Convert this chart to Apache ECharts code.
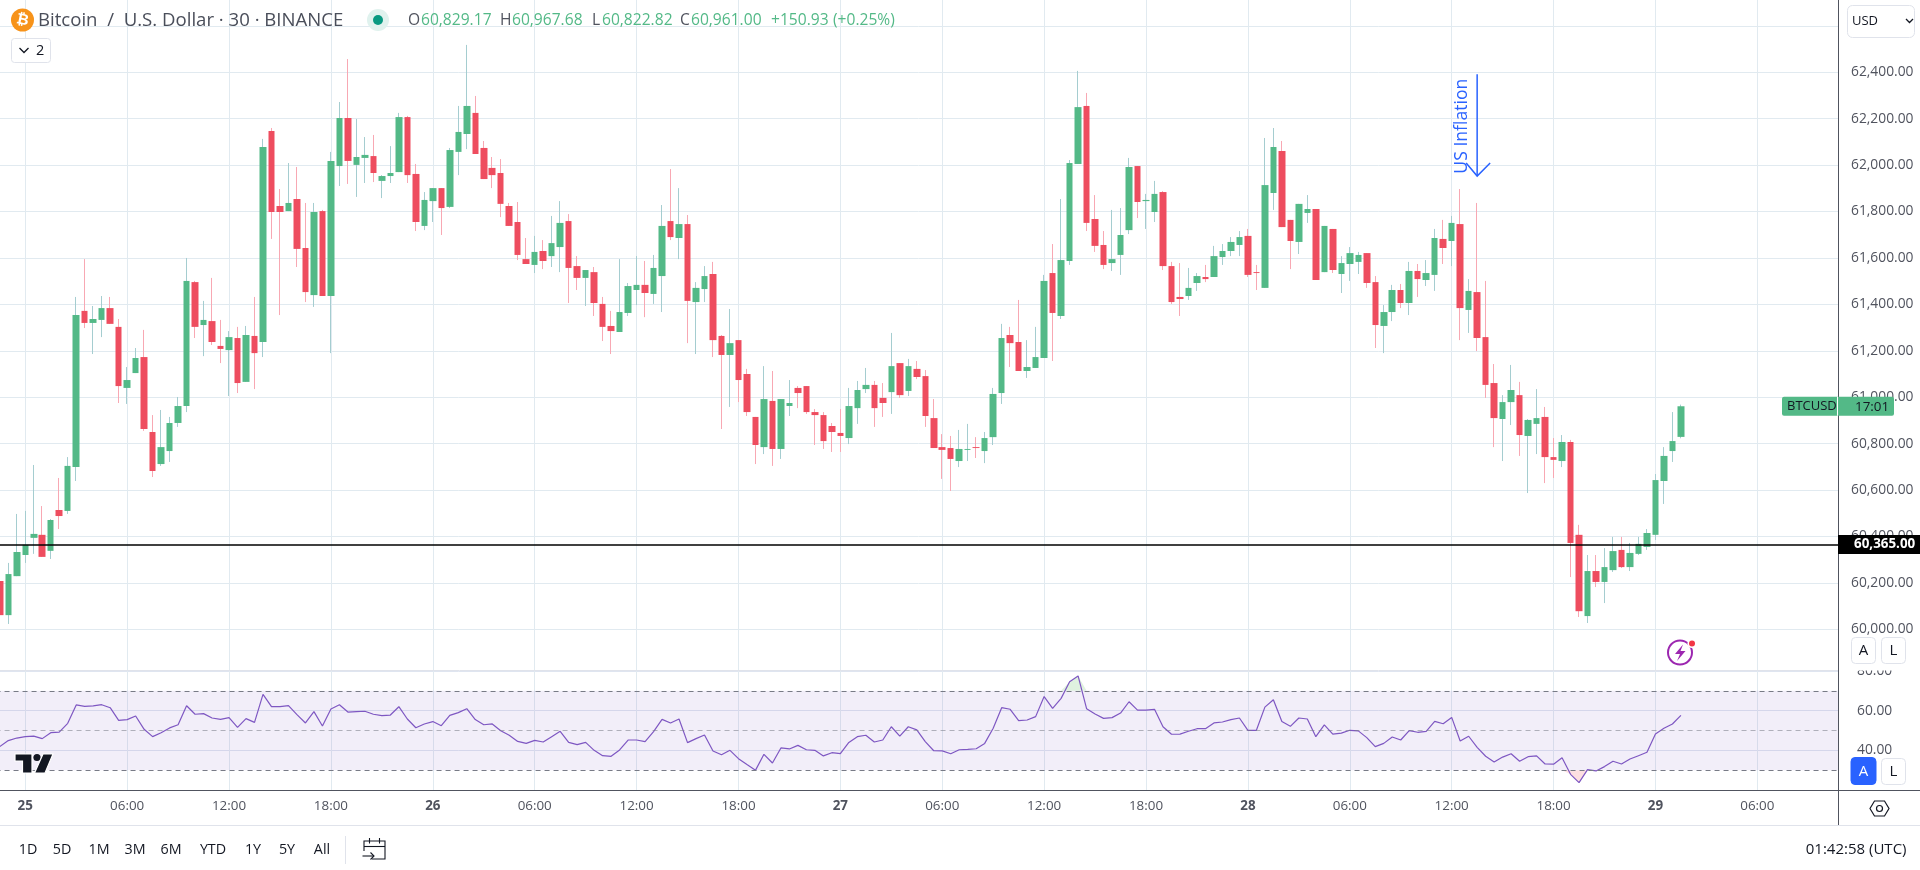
<!DOCTYPE html>
<html>
<head>
<meta charset="utf-8">
<title>Bitcoin / U.S. Dollar</title>
<script src="https://cdn.jsdelivr.net/npm/echarts@6/dist/echarts.min.js"></script>
<style>
  html, body { margin: 0; height: 100%; background: #fff; }
  #chart { width: 1920px; height: 870px; }
</style>
</head>
<body>
<div id="chart"></div>
<script>
// 30m candles
const opens = [
  60208, 60061, 60229, 60320, 60394, 60407, 60338, 60514, 60510, 60699,
  61372, 61320, 61333, 61384, 61303, 61040, 61104, 61173, 60850, 60712,
  60768, 60889, 60962, 61496, 61311, 61328, 61221, 61203, 61255, 61066,
  61264, 61238, 62147, 61824, 61802, 61854, 61643, 61440, 61802, 61436,
  61996, 62203, 62001, 62031, 62039, 61932, 61953, 61970, 62207, 61962,
  61738, 61845, 61901, 61820, 62057, 62134, 62225, 62074, 61988, 61966,
  61824, 61755, 61595, 61570, 61630, 61608, 61647, 61759, 61565, 61514,
  61539, 61402, 61307, 61281, 61363, 61462, 61484, 61445, 61522, 61759,
  61686, 61746, 61410, 61466, 61531, 61264, 61182, 61246, 61100, 60915,
  60785, 60984, 60777, 60962, 61040, 61048, 60936, 60923, 60876, 60846,
  60824, 60953, 61035, 61053, 60997, 61022, 61147, 61027, 61122, 61091,
  60910, 60785, 60781, 60725, 60773, 60785, 60768, 60828, 61018, 61268,
  61238, 61113, 61126, 61169, 61535, 61350, 61587, 62005, 62255, 61768,
  61656, 61578, 61613, 61720, 61996, 61845, 61798, 61884, 61565, 61432,
  61436, 61492, 61518, 61518, 61604, 61630, 61656, 61695, 61539, 61471,
  61880, 62061, 61764, 61669, 61794, 61811, 61539, 61725, 61531, 61574,
  61583, 61621, 61496, 61307, 61367, 61462, 61406, 61544, 61505, 61527,
  61682, 61673, 61746, 61376, 61453, 61259, 61061, 60906, 60979, 61009,
  60833, 60885, 60915, 60742, 60725, 60807, 60407, 60057, 60251, 60204,
  60255, 60342, 60268, 60325, 60355, 60407, 60639, 60768, 60829
];
const closes = [
  60061, 60238, 60333, 60364, 60411, 60312, 60471, 60488, 60704, 61354,
  61320, 61337, 61384, 61316, 61048, 61074, 61169, 60863, 60682, 60785,
  60889, 60962, 61501, 61303, 61333, 61238, 61208, 61259, 61061, 61268,
  61190, 62078, 61798, 61798, 61837, 61639, 61453, 61798, 61436, 62018,
  62203, 62018, 62035, 62044, 61966, 61953, 61966, 62207, 61957, 61755,
  61850, 61901, 61815, 62065, 62143, 62255, 62048, 61940, 61957, 61833,
  61738, 61613, 61574, 61626, 61587, 61664, 61751, 61557, 61514, 61548,
  61406, 61303, 61285, 61367, 61479, 61484, 61449, 61557, 61738, 61690,
  61746, 61415, 61471, 61522, 61246, 61182, 61233, 61074, 60936, 60794,
  60992, 60777, 60992, 60975, 61018, 60936, 60923, 60811, 60850, 60833,
  60962, 61031, 61053, 60953, 60975, 61134, 61009, 61134, 61087, 60919,
  60781, 60773, 60734, 60777, 60777, 60781, 60824, 61014, 61255, 61233,
  61113, 61130, 61173, 61501, 61363, 61591, 62009, 62250, 61751, 61652,
  61570, 61595, 61699, 61992, 61841, 61850, 61876, 61565, 61410, 61423,
  61471, 61522, 61509, 61608, 61630, 61669, 61690, 61527, 61535, 61914,
  62078, 61733, 61673, 61833, 61811, 61505, 61738, 61548, 61578, 61621,
  61613, 61492, 61311, 61367, 61462, 61406, 61544, 61509, 61535, 61686,
  61643, 61751, 61384, 61458, 61255, 61053, 60910, 60979, 61031, 60837,
  60902, 60910, 60742, 60730, 60807, 60372, 60078, 60251, 60204, 60268,
  60337, 60268, 60329, 60368, 60415, 60643, 60747, 60811, 60961
];
const highs = [
  60303, 60286, 60497, 60510, 60708, 60531, 60475, 60652, 60742, 61432,
  61595, 61393, 61436, 61432, 61337, 61130, 61212, 61290, 60923, 60945,
  60915, 61001, 61600, 61501, 61415, 61514, 61333, 61285, 61303, 61307,
  61432, 62113, 62160, 61897, 62009, 61992, 61837, 61837, 61807, 62057,
  62272, 62457, 62199, 62121, 62130, 61957, 62082, 62225, 62212, 62005,
  61884, 61901, 61901, 62074, 62255, 62518, 62298, 62104, 62035, 62026,
  61837, 61841, 61686, 61695, 61677, 61781, 61845, 61789, 61608, 61548,
  61561, 61432, 61372, 61595, 61492, 61608, 61587, 61613, 61828, 61983,
  61901, 61785, 61496, 61565, 61583, 61268, 61380, 61246, 61122, 60915,
  61134, 61113, 60992, 61074, 61048, 61048, 60949, 60936, 60889, 60949,
  61040, 61070, 61126, 61070, 61061, 61277, 61147, 61165, 61156, 61117,
  60992, 60841, 60833, 60859, 60885, 60828, 60850, 61040, 61316, 61303,
  61419, 61246, 61303, 61527, 61660, 61854, 62022, 62406, 62311, 61871,
  61716, 61807, 61815, 62031, 61996, 61876, 61932, 61888, 61583, 61578,
  61557, 61535, 61570, 61652, 61660, 61690, 61716, 61725, 61570, 62117,
  62160, 62104, 61764, 61833, 61871, 61811, 61738, 61725, 61608, 61647,
  61626, 61621, 61522, 61397, 61484, 61488, 61583, 61574, 61591, 61725,
  61764, 61781, 61897, 61509, 61837, 61501, 61143, 61009, 61139, 61066,
  60906, 61035, 60958, 60824, 60837, 60816, 60450, 60320, 60320, 60350,
  60398, 60398, 60372, 60398, 60432, 60669, 60785, 60936, 60968
];
const lows = [
  60053, 60023, 60229, 60286, 60325, 60312, 60303, 60432, 60497, 60639,
  61298, 61186, 61259, 61316, 60975, 60971, 61104, 60855, 60656, 60704,
  60721, 60872, 60936, 61255, 61177, 61225, 61147, 61005, 61018, 61066,
  61035, 61173, 61682, 61354, 61802, 61561, 61410, 61389, 61436, 61190,
  61910, 61919, 61863, 61923, 61927, 61858, 61923, 61970, 61923, 61716,
  61720, 61755, 61699, 61815, 61957, 62069, 62048, 61940, 61901, 61776,
  61738, 61591, 61574, 61535, 61552, 61561, 61539, 61406, 61462, 61393,
  61350, 61242, 61186, 61281, 61350, 61397, 61345, 61402, 61367, 61677,
  61595, 61233, 61186, 61410, 61173, 60863, 60958, 60979, 60919, 60712,
  60755, 60704, 60734, 60919, 60953, 60928, 60794, 60777, 60764, 60764,
  60798, 60885, 61018, 60872, 60915, 60928, 60997, 61005, 61078, 60872,
  60781, 60648, 60596, 60699, 60725, 60738, 60716, 60794, 60971, 61130,
  61113, 61083, 61126, 61169, 61156, 61337, 61570, 62005, 61716, 61626,
  61552, 61544, 61527, 61703, 61772, 61725, 61755, 61548, 61402, 61350,
  61419, 61458, 61496, 61518, 61570, 61608, 61608, 61518, 61462, 61471,
  61807, 61733, 61552, 61617, 61751, 61505, 61539, 61535, 61449, 61501,
  61531, 61471, 61212, 61190, 61328, 61384, 61354, 61432, 61479, 61458,
  61574, 61565, 61246, 61277, 61199, 60997, 60785, 60725, 60880, 60747,
  60587, 60755, 60630, 60652, 60699, 60225, 60053, 60027, 60182, 60113,
  60247, 60264, 60251, 60320, 60342, 60385, 60540, 60721, 60823
];
const rsi = [
  41.9, 44.9, 46.2, 46.9, 47.2, 45.9, 48.9, 49.2, 53.6, 62.9,
  62.2, 62.4, 63.0, 61.5, 55.1, 55.5, 57.3, 50.6, 46.9, 48.9,
  51.3, 52.9, 62.5, 58.2, 58.5, 56.3, 55.6, 56.5, 51.6, 56.0,
  54.1, 68.2, 62.0, 62.0, 62.5, 58.0, 53.8, 59.5, 52.3, 60.8,
  63.0, 59.3, 59.5, 59.7, 58.2, 57.5, 57.8, 62.0, 55.8, 51.4,
  53.3, 54.5, 52.4, 57.6, 59.0, 61.0, 55.5, 52.9, 53.3, 49.9,
  47.6, 44.5, 43.5, 45.0, 44.2, 46.9, 49.6, 44.0, 42.9, 44.0,
  40.0, 37.3, 37.0, 40.2, 45.2, 45.2, 44.4, 49.4, 55.6, 53.8,
  55.8, 43.9, 45.9, 47.7, 39.7, 37.8, 40.0, 35.8, 32.8, 29.9,
  38.0, 33.6, 41.2, 40.7, 42.5, 40.3, 40.0, 37.2, 38.8, 38.3,
  44.0, 46.9, 47.6, 44.2, 45.2, 51.9, 47.2, 51.9, 50.3, 44.4,
  39.8, 39.7, 38.3, 40.3, 40.5, 40.8, 43.5, 51.1, 61.5, 60.7,
  55.0, 55.3, 57.0, 67.1, 61.2, 66.2, 74.6, 77.5, 61.0, 58.3,
  56.1, 56.5, 58.8, 64.5, 60.3, 60.3, 60.7, 51.9, 48.1, 48.2,
  49.6, 50.9, 50.9, 53.8, 54.3, 55.5, 56.3, 50.1, 50.1, 61.8,
  65.5, 54.5, 52.1, 56.3, 55.8, 46.9, 52.8, 48.2, 48.7, 50.1,
  49.8, 46.4, 41.9, 43.5, 46.7, 45.2, 49.9, 49.1, 49.6, 54.6,
  53.4, 56.6, 44.7, 47.1, 41.5, 37.0, 34.1, 36.6, 38.3, 34.5,
  36.8, 37.2, 33.1, 33.0, 36.3, 27.9, 23.7, 30.3, 29.6, 31.8,
  34.5, 33.1, 35.6, 37.3, 39.0, 48.2, 51.1, 53.3, 57.6
];
// one label every 12 bars, first one on the 4th bar
const timeLabels = ['25', '06:00', '12:00', '18:00', '26', '06:00', '12:00', '18:00',
  '27', '06:00', '12:00', '18:00', '28', '06:00', '12:00', '18:00', '29', '06:00'];
const priceTicks = [60000, 60200, 60400, 60600, 60800, 61000, 61200, 61400,
  61600, 61800, 62000, 62200, 62400, 62600];
const rangeButtons = [['1D', 28], ['5D', 62], ['1M', 99], ['3M', 135], ['6M', 171],
  ['YTD', 213], ['1Y', 253], ['5Y', 287], ['All', 322]];
const lastPrice = 60961;
const supportLevel = 60365;
const rsiUpper = 70, rsiLower = 30;

const SLOTS = 217;
const UP = '#53b987', DOWN = '#ee4d5f', UP_WICK = '#a5cdd0', DOWN_WICK = '#f8a8b3';
const GRID_LINE = '#e1eaf0', AXIS_TEXT = '#50535e', INK = '#131722', BLUE = '#2962ff';
const FONT = "'Open Sans', sans-serif";

const categories = new Array(SLOTS).fill('');
timeLabels.forEach((label, k) => { categories[3 + 12 * k] = label; });
const isLabelled = (index) => categories[index] !== '';

const fullCandles = opens.map((o, i) => [o, closes[i], lows[i], highs[i]]);
const bodies = opens.map((o, i) => [o, closes[i], Math.min(o, closes[i]), Math.max(o, closes[i])]);

function xAxisOf(gridIndex, showLabels) {
  return {
    type: 'category',
    gridIndex: gridIndex,
    data: categories,
    axisLine: { show: false },
    axisTick: { show: false },
    splitLine: {
      show: true,
      alignWithLabel: true,
      interval: isLabelled,
      lineStyle: { color: GRID_LINE, width: 1 }
    },
    axisLabel: {
      show: showLabels,
      interval: isLabelled,
      margin: 10,
      fontFamily: FONT,
      fontSize: 13.4,
      color: AXIS_TEXT,
      formatter: (v) => (v.indexOf(':') > 0 ? v : '{day|' + v + '}'),
      rich: { day: { fontFamily: FONT, fontSize: 13.4, fontWeight: 'bold', color: AXIS_TEXT } }
    }
  };
}

// tinted bit of the RSI beyond a band edge
function rsiOverflow(values, edge, tint) {
  return {
    type: 'line', xAxisIndex: 1, yAxisIndex: 1, data: values,
    showSymbol: false, silent: true,
    lineStyle: { width: 0 },
    areaStyle: { origin: edge, color: tint, opacity: 1 }
  };
}

function txt(x, y, text, fill, size, extra) {
  return {
    type: 'text', z: 120,
    style: {
      x: x, y: y, text: text, fill: fill,
      font: (extra && extra.bold ? 'bold ' : '') + size + 'px ' + FONT,
      textAlign: (extra && extra.align) || 'left',
      textVerticalAlign: 'middle'
    }
  };
}
function box(x, y, w, h, fill, stroke, r) {
  return {
    type: 'rect', z: 110,
    shape: { x: x, y: y, width: w, height: h, r: r || 0 },
    style: { fill: fill, stroke: stroke || null, lineWidth: 1 }
  };
}
function stroked(points, color, width) {
  return { type: 'polyline', z: 120, shape: { points: points }, style: { fill: null, stroke: color, lineWidth: width || 1 } };
}
function filled(points, color, halo) {
  return {
    type: 'polygon', z: 120, shape: { points: points },
    style: { fill: color, stroke: halo || null, lineWidth: halo ? 1.2 : 0 }
  };
}

const chart = echarts.init(document.getElementById('chart'));
chart.setOption({
  animation: false,
  backgroundColor: '#fff',
  grid: [
    { left: -4.45, width: 1842.45, top: 0, height: 670, outerBoundsMode: 'none' },
    { left: -4.45, width: 1842.45, top: 671, height: 119, outerBoundsMode: 'none' }
  ],
  xAxis: [xAxisOf(0, false), xAxisOf(1, true)],
  yAxis: [
    {
      type: 'value', gridIndex: 0, position: 'right', scale: true,
      min: 59824.6, max: 62711.5,
      axisLine: { show: false }, axisTick: { show: false, customValues: priceTicks },
      splitLine: { lineStyle: { color: GRID_LINE, width: 1 } },
      axisLabel: {
        customValues: priceTicks, margin: 13, fontFamily: FONT, fontSize: 13.8, color: AXIS_TEXT,
        formatter: (v) => v.toLocaleString('en-US', { minimumFractionDigits: 2 })
      }
    },
    {
      type: 'value', gridIndex: 1, position: 'right',
      min: 20, max: 80, interval: 20,
      axisLine: { show: false }, axisTick: { show: false },
      splitLine: { lineStyle: { color: '#dfe5f0', width: 1 } },
      axisLabel: {
        showMinLabel: false, margin: 19, fontFamily: FONT, fontSize: 13.8, color: AXIS_TEXT,
        formatter: (v) => v.toFixed(2)
      }
    }
  ],
  series: [
    {
      name: 'wicks', type: 'candlestick', xAxisIndex: 0, yAxisIndex: 0, barWidth: 1,
      data: fullCandles,
      itemStyle: { color: UP_WICK, color0: DOWN_WICK, borderColor: UP_WICK, borderColor0: DOWN_WICK, borderWidth: 1 },
      silent: true
    },
    {
      name: 'bodies', type: 'candlestick', xAxisIndex: 0, yAxisIndex: 0, barWidth: 7,
      data: bodies,
      itemStyle: { color: UP, color0: DOWN, borderColor: UP, borderColor0: DOWN, borderWidth: 0 },
      silent: true,
      markLine: {
        silent: true, symbol: 'none', animation: false,
        label: { show: false },
        lineStyle: { color: '#000', type: 'solid', width: 1.5 },
        data: [{ yAxis: supportLevel }]
      }
    },
    rsiOverflow(rsi.map((v) => Math.max(v, rsiUpper)), rsiUpper, 'rgba(76,175,80,0.18)'),
    rsiOverflow(rsi.map((v) => Math.min(v, rsiLower)), rsiLower, 'rgba(242,54,69,0.16)'),
    {
      name: 'RSI', type: 'line', xAxisIndex: 1, yAxisIndex: 1, data: rsi,
      showSymbol: false, smooth: false, silent: true,
      lineStyle: { color: '#7e57c2', width: 1.2 },
      markArea: {
        silent: true,
        itemStyle: { color: 'rgba(126,87,194,0.1)' },
        data: [[{ yAxis: rsiUpper }, { yAxis: rsiLower }]]
      },
      markLine: {
        silent: true, symbol: 'none', animation: false, label: { show: false },
        lineStyle: { color: '#787b86', type: [5, 4], width: 1 },
        data: [
          { yAxis: rsiUpper },
          { yAxis: rsiLower },
          { yAxis: 50, lineStyle: { color: 'rgba(120,123,134,0.55)', type: [5, 4], width: 1 } }
        ]
      }
    }
  ]
});

// pixels of the price labels and the arrow come from the axes
const yOf = (price) => chart.convertToPixel({ yAxisIndex: 0 }, price);
const xOf = (slot) => chart.convertToPixel({ xAxisIndex: 0 }, slot);
const lastY = yOf(lastPrice), levelY = yOf(supportLevel);
const arrowX = xOf(174), arrowTop = yOf(62392), arrowTip = yOf(61953);

const elements = [
  // panel frame
  box(1839, 663, 81, 7.5, '#fff'),
  { type: 'line', z: 105, shape: { x1: 1838.5, y1: 0, x2: 1838.5, y2: 825 }, style: { stroke: '#50535e', lineWidth: 1 } },
  { type: 'line', z: 105, shape: { x1: 0, y1: 790.5, x2: 1920, y2: 790.5 }, style: { stroke: '#50535e', lineWidth: 1 } },
  { type: 'line', z: 105, shape: { x1: 0, y1: 825.5, x2: 1920, y2: 825.5 }, style: { stroke: '#e0e3eb', lineWidth: 1 } },
  { type: 'line', z: 105, shape: { x1: 0, y1: 670.5, x2: 1838, y2: 670.5 }, style: { stroke: '#e0e3eb', lineWidth: 1 } },

  // header
  { type: 'circle', z: 120, shape: { cx: 22.5, cy: 20, r: 11.5 }, style: { fill: '#f7931a' } },
  Object.assign(txt(22.5, 20, '₿', '#fff', 15, { bold: true, align: 'center' }), { rotation: -0.2, originX: 22.5, originY: 20 }),
  txt(38, 20.5, 'Bitcoin  /  U.S. Dollar · 30 · BINANCE', '#4a4e5a', 18.6),
  { type: 'circle', z: 120, shape: { cx: 378, cy: 20, r: 11 }, style: { fill: '#e0f2ee' } },
  { type: 'circle', z: 121, shape: { cx: 378, cy: 20, r: 5 }, style: { fill: '#089981' } },
  txt(408, 20.5, 'O', AXIS_TEXT, 15.6), txt(421, 20.5, '60,829.17', UP, 15.6),
  txt(500, 20.5, 'H', AXIS_TEXT, 15.6), txt(512, 20.5, '60,967.68', UP, 15.6),
  txt(592, 20.5, 'L', AXIS_TEXT, 15.6), txt(602, 20.5, '60,822.82', UP, 15.6),
  txt(680, 20.5, 'C', AXIS_TEXT, 15.6), txt(691, 20.5, '60,961.00', UP, 15.6),
  txt(771, 20.5, '+150.93', UP, 15.6), txt(833, 20.5, '(+0.25%)', UP, 15.6),
  box(11.5, 38.5, 39, 24, '#fff', '#e0e3eb', 3),
  stroked([[19.5, 48], [24, 52.5], [28.5, 48]], INK, 1.3),
  txt(36, 50.5, '2', INK, 14.5),

  // right column buttons
  box(1847.5, 5.5, 67, 32, '#fff', '#e0e3eb', 5),
  txt(1852, 21, 'USD', INK, 13),
  stroked([[1906, 19], [1909.5, 22.5], [1913, 19]], INK, 1.3),
  box(1851.5, 637.5, 24, 26, '#fff', '#e0e3eb', 4),
  box(1881.5, 637.5, 24, 26, '#fff', '#e0e3eb', 4),
  txt(1863.5, 651, 'A', INK, 15, { align: 'center' }),
  txt(1893.5, 651, 'L', INK, 15, { align: 'center' }),
  box(1851, 757.5, 25, 27, BLUE, BLUE, 4),
  box(1881.5, 758.5, 24, 26, '#fff', '#e0e3eb', 4),
  txt(1863.5, 772, 'A', '#fff', 15, { align: 'center' }),
  txt(1893.5, 772, 'L', INK, 15, { align: 'center' }),
  {
    type: 'polygon', z: 120,
    shape: { points: [[1870, 808.5], [1874.5, 801], [1884.5, 801], [1889, 808.5], [1884.5, 816], [1874.5, 816]] },
    style: { fill: null, stroke: INK, lineWidth: 1.2 }
  },
  { type: 'circle', z: 120, shape: { cx: 1879.5, cy: 808.5, r: 3 }, style: { fill: null, stroke: INK, lineWidth: 1.2 } },

  // price tags
  box(1838, levelY - 9.5, 82, 19, '#000'),
  txt(1854, levelY, supportLevel.toLocaleString('en-US', { minimumFractionDigits: 2 }), '#fff', 13.4, { bold: true }),
  box(1782, lastY - 9.5, 112, 19, UP, null, 2),
  { type: 'line', z: 115, shape: { x1: 1837.5, y1: lastY - 9.5, x2: 1837.5, y2: lastY + 9.5 }, style: { stroke: '#fff', lineWidth: 1 } },
  txt(1787, lastY + 0.5, 'BTCUSD', INK, 13),
  txt(1855, lastY + 0.5, '17:01', INK, 13.4),

  // arrow annotation
  stroked([[arrowX, arrowTop], [arrowX, arrowTip]], BLUE, 1.5),
  stroked([[arrowX - 11, arrowTip - 13], [arrowX, arrowTip], [arrowX + 13, arrowTip - 13]], BLUE, 1.5),
  Object.assign(txt(0, 0, 'US Inflation', BLUE, 17.6, { align: 'center' }), { x: arrowX - 15, y: arrowTop + 52, rotation: Math.PI / 2 }),

  // lightning badge
  { type: 'circle', z: 120, shape: { cx: 1680, cy: 652.5, r: 12 }, style: { fill: null, stroke: '#9c27b0', lineWidth: 2 } },
  filled([[1683, 644.5], [1675, 654], [1680, 654], [1677, 661], [1685.5, 651], [1680.5, 651]], '#9c27b0'),
  { type: 'circle', z: 122, shape: { cx: 1692, cy: 643.5, r: 4.5 }, style: { fill: '#fff' } },
  { type: 'circle', z: 123, shape: { cx: 1692, cy: 643.5, r: 3 }, style: { fill: '#f23645' } },

  // tradingview mark
  filled([[15, 754], [32, 754], [32, 773], [22.5, 773], [22.5, 761], [15, 761]], INK, '#fff'),
  { type: 'circle', z: 120, shape: { cx: 37, cy: 757.5, r: 3.6 }, style: { fill: INK } },
  filled([[43, 754], [53, 754], [45, 773], [34.5, 773]], INK, '#fff'),

  // bottom bar
  { type: 'line', z: 105, shape: { x1: 345.5, y1: 836, x2: 345.5, y2: 864 }, style: { stroke: '#e0e3eb', lineWidth: 1 } },
  stroked([[364, 851], [364, 841], [385, 841], [385, 859], [372, 859]], INK, 1.1),
  stroked([[364, 846.5], [385, 846.5]], INK, 1.1),
  stroked([[369.5, 838], [369.5, 843.5]], INK, 1.1),
  stroked([[379.5, 838], [379.5, 843.5]], INK, 1.1),
  stroked([[362.5, 856], [374, 856]], INK, 1.1),
  stroked([[370.5, 852.5], [374, 856], [370.5, 859.5]], INK, 1.1),
  txt(1906.5, 850, '01:42:58 (UTC)', INK, 15, { align: 'right' })
];
rangeButtons.forEach(([label, x]) => {
  elements.push(txt(x, 850, label, INK, 14.3, { align: 'center' }));
});
chart.setOption({ graphic: { elements: elements } });
</script>
</body>
</html>
